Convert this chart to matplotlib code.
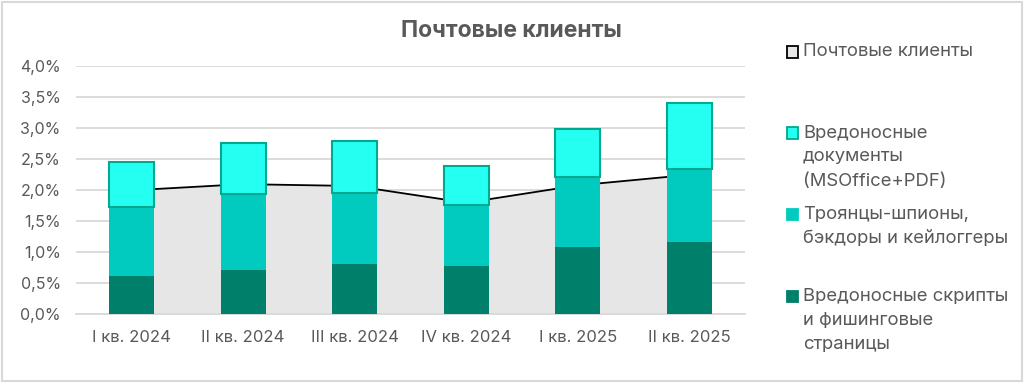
import numpy as np
import matplotlib
matplotlib.use('Agg')
import matplotlib.pyplot as plt
from matplotlib.patches import Rectangle

plt.rcParams['font.family'] = ['Inter', 'DejaVu Sans']

# data (shares, %)
quarters = ['I кв. 2024', 'II кв. 2024', 'III кв. 2024', 'IV кв. 2024', 'I кв. 2025', 'II кв. 2025']
scripts = [0.62, 0.72, 0.81, 0.78, 1.08, 1.17]     # Вредоносные скрипты и фишинговые страницы
trojans = [1.11, 1.22, 1.15, 0.98, 1.13, 1.17]     # Троянцы-шпионы, бэкдоры и кейлоггеры
docs = [0.72, 0.83, 0.83, 0.63, 0.78, 1.07]        # Вредоносные документы (MSOffice+PDF)
mail = [2.00, 2.10, 2.07, 1.80, 2.08, 2.25]        # Почтовые клиенты

c_dark = '#00806A'
c_mid = '#00CBBE'
c_top = '#24FFF2'
c_edge = '#00A88E'
c_area = '#E6E6E6'
c_text = '#595959'
c_grid = '#D9D9D9'

fig = plt.figure(figsize=(10.24, 3.83), dpi=100)
ax = fig.add_axes([0.0742, 0.179, 0.6533, 0.648])

x = np.arange(len(quarters))
w = 0.4

ax.fill_between(x, mail, color=c_area, zorder=1, linewidth=0)
ax.plot(x, mail, color='black', lw=1.3, zorder=2)

b1 = np.array(scripts)
b2 = b1 + np.array(trojans)
ax.bar(x, scripts, w, color=c_dark, zorder=3)
ax.bar(x, trojans, w, bottom=b1, color=c_mid, zorder=3)
ax.bar(x, docs, w, bottom=b2, color=c_top, edgecolor=c_edge, linewidth=1.5, zorder=4)

ax.set_xlim(-0.5, len(quarters) - 0.5)
ax.set_ylim(0, 4.0)
ax.set_yticks(np.arange(0, 4.01, 0.5))
ax.set_yticklabels([('%.1f%%' % v).replace('.', ',') for v in np.arange(0, 4.01, 0.5)])
ax.set_xticks(x)
ax.set_xticklabels(quarters)
ax.tick_params(axis='y', length=0, pad=11, labelsize=11.5, labelcolor=c_text)
ax.tick_params(axis='x', length=0, pad=11, labelsize=12, labelcolor=c_text)
ax.grid(axis='y', color=c_grid, lw=1.3, zorder=0)
ax.set_axisbelow(True)
for s in ['top', 'right', 'left']:
    ax.spines[s].set_visible(False)
ax.spines['bottom'].set_color(c_grid)
ax.spines['bottom'].set_linewidth(1.3)

fig.text(511 / 1024, 1 - 31 / 383, 'Почтовые клиенты', ha='center', va='center',
         fontsize=16.5, fontweight='bold', color=c_text)

# legend drawn by hand
legend = [
    ('Почтовые клиенты', c_area, 'black', 52),
    ('Вредоносные\nдокументы\n(MSOffice+PDF)', c_top, c_edge, 133),
    ('Троянцы-шпионы,\nбэкдоры и кейлоггеры', c_mid, c_mid, 214),
    ('Вредоносные скрипты\nи фишинговые\nстраницы', c_dark, c_dark, 296),
]
W, H = 1024, 383
for label, fc, ec, yc in legend:
    fig.patches.append(Rectangle(((787) / W, 1 - (yc + 5.5) / H), 11 / W, 11 / H,
                                 transform=fig.transFigure, facecolor=fc,
                                 edgecolor=ec, linewidth=1.3))
    for i, line in enumerate(label.split('\n')):
        fig.text(803 / W, 1 - (yc + 24 * i) / H, line, ha='left', va='center',
                 fontsize=13.3, color=c_text)

fig.patches.append(Rectangle((2 / W, 2 / H), 1 - 4 / W, 1 - 4 / H,
                             transform=fig.transFigure, facecolor='none',
                             edgecolor=c_grid, linewidth=1.5))

fig.savefig('out.png', dpi=100)
